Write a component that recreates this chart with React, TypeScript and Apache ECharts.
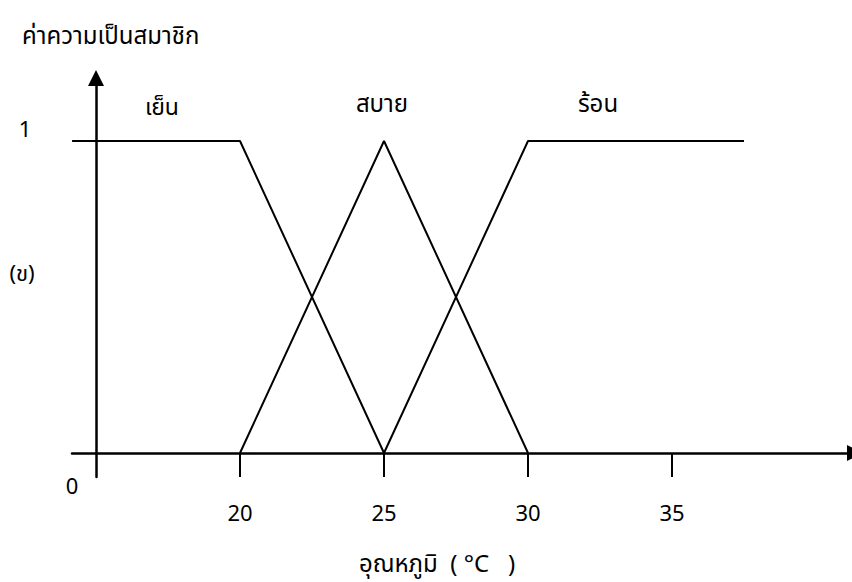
import React, { useEffect, useRef } from "react";
import * as echarts from "echarts";

const tickValues = [20, 25, 30, 35];
const coldPoints: [number, number][] = [[14.17, 1], [20, 1], [25, 0]];
const comfortPoints: [number, number][] = [[20, 0], [25, 1], [30, 0]];
const hotPoints: [number, number][] = [[25, 0], [30, 1], [37.5, 1]];
const setNames = ["เย็น", "สบาย", "ร้อน"];
const yTitle = "ค่าความเป็นสมาชิก";
const xTitle = "อุณหภูมิ  ( °C   )";
const panelTag = "(ข)";

const FONT = "'Noto Sans', 'Noto Sans Thai', sans-serif";

export default function App() {
  const ref = useRef<HTMLDivElement>(null);
  useEffect(() => {
    if (!ref.current) return;
    const chart = echarts.init(ref.current, null, { renderer: "svg" });
    const lineStyle = { color: "#000", width: 2 };
    const mk = (name: string, data: [number, number][]) => ({
      name,
      type: "line",
      data,
      showSymbol: false,
      symbol: "none",
      lineStyle,
      silent: true,
      clip: false,
    });
    const txt = (text: string, x: number, y: number, size = 21, align = "center") => ({
      type: "text",
      x,
      y,
      style: {
        text,
        fill: "#000",
        font: `${size}px ${FONT}`,
        align,
        verticalAlign: "middle",
      },
    });
    chart.setOption({
      animation: false,
      backgroundColor: "#fff",
      grid: { left: 72, right: -3, top: 78, bottom: 105, outerBoundsMode: "none", containLabel: false },
      xAxis: {
        type: "value",
        min: 14.1667,
        max: 41.354,
        axisLine: {
          onZero: true,
          symbol: ["none", "triangle"],
          symbolSize: [16, 16],
          lineStyle: { color: "#000", width: 2.5 },
        },
        axisTick: {
          show: true,
          customValues: tickValues,
          length: 24,
          lineStyle: { color: "#000", width: 2 },
        },
        axisLabel: {
          customValues: tickValues,
          margin: 24,
          color: "#000",
          fontSize: 22,
          fontFamily: FONT,
        },
        splitLine: { show: false },
      },
      yAxis: {
        type: "value",
        min: -0.0769,
        max: 1.2019,
        offset: -24,
        axisLine: {
          show: true,
          onZero: false,
          symbol: ["none", "triangle"],
          symbolSize: [16, 16],
          lineStyle: { color: "#000", width: 2.5 },
        },
        axisTick: { show: false },
        axisLabel: { show: false },
        splitLine: { show: false },
      },
      series: [
        mk(setNames[0], coldPoints),
        mk(setNames[1], comfortPoints),
        mk(setNames[2], hotPoints),
      ],
      graphic: [
        txt(yTitle, 22, 34, 24, "left"),
        txt("1", 25, 128, 22),
        txt(panelTag, 22, 272, 22),
        txt(setNames[0], 162, 106, 23),
        txt(setNames[1], 382, 102, 24),
        txt(setNames[2], 598, 102, 24),
        txt("0", 72, 485, 22),
        txt(xTitle, 437, 562, 24),
      ],
    });
    return () => chart.dispose();
  }, []);
  return <div ref={ref} style={{ width: 852, height: 582, position: "absolute", left: 0, top: 0 }} />;
}
